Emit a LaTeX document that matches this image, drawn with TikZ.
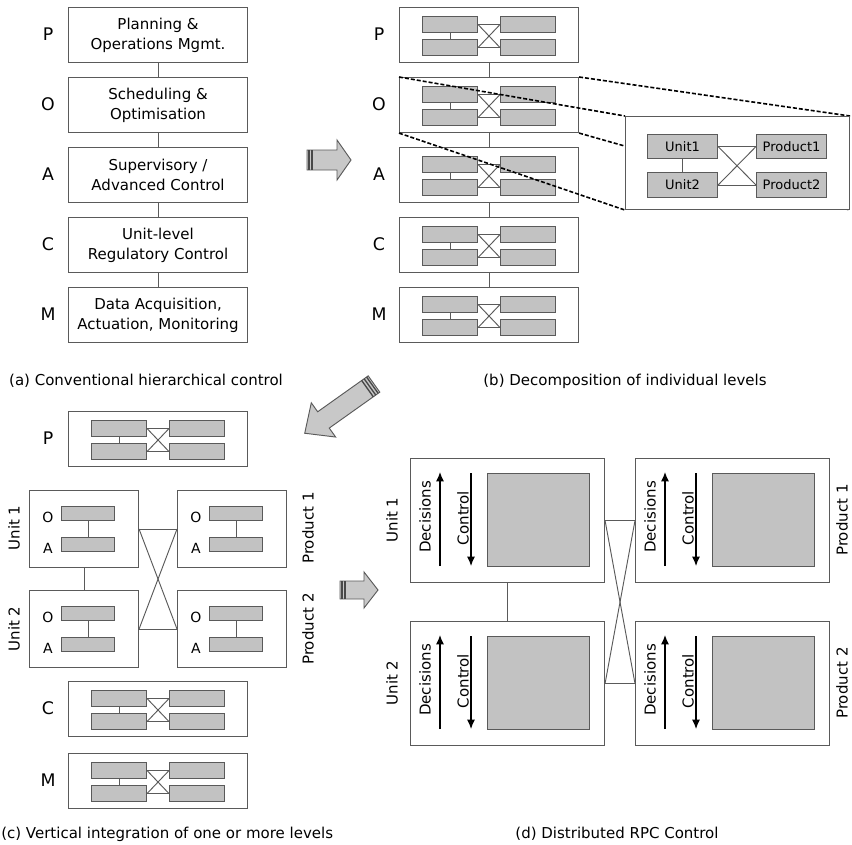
\documentclass[tikz,border=0pt]{standalone}
\usepackage{fontspec}
\setmainfont{DejaVu Sans}
\usetikzlibrary{arrows.meta}
\pgfdeclarelayer{dashl}
\pgfdeclarelayer{insl}
\pgfsetlayers{main,dashl,insl}
\definecolor{bord}{HTML}{5A5A5A}
\definecolor{gfill}{HTML}{C2C2C2}
\definecolor{afill}{HTML}{C8C8C8}
\tikzset{
 sz/.style 2 args={minimum width=#1*0.75pt, minimum height=#2*0.75pt},
 bigbox/.style={draw=bord, line width=0.8pt, fill=white, inner sep=0pt, anchor=north west},
 grect/.style={draw=bord, line width=0.8pt, fill=gfill, inner sep=0pt, anchor=north west},
 conn/.style={draw=bord, line width=0.7pt},
 txt/.style={font=\fontsize{11.25}{15}\selectfont, align=center},
 lvl/.style={font=\fontsize{13}{15}\selectfont, inner sep=0pt},
 smalllbl/.style={font=\fontsize{10.5}{12}\selectfont, inner sep=0pt},
 instxt/.style={font=\fontsize{9.75}{12}\selectfont},
 captext/.style={font=\fontsize{11.25}{14}\selectfont, inner sep=0pt},
 rotlbl/.style={font=\fontsize{11.25}{14}\selectfont, rotate=90, inner sep=0pt},
 blockarrow/.style={fill=afill, draw=bord, line width=0.7pt, line join=miter},
 stripe/.style={draw=bord!80!black, line width=1pt},
 dasher/.style={draw=black, line width=1.2pt, dash pattern=on 3pt off 1.5pt},
 vecarrow/.style={draw=black, line width=0.9pt, -{Latex[length=7pt,width=6pt]}},
 level/.pic={
  \node[bigbox, sz={179}{55}] (-box) at (0,0) {};
  \node[grect, sz={55}{16}] (-u1) at (23,9) {};
  \node[grect, sz={55}{16}] (-u2) at (23,32) {};
  \node[grect, sz={55}{16}] (-p1) at (101,9) {};
  \node[grect, sz={55}{16}] (-p2) at (101,32) {};
  \draw[conn] (-u1) -- (-u2);
  \draw[conn] (-u1.east) -- (-p1.west);
  \draw[conn] (-u2.east) -- (-p2.west);
  \draw[conn] (-u1.east) -- (-p2.west);
  \draw[conn] (-u2.east) -- (-p1.west);
 },
 oa/.pic={
  \node[bigbox, sz={109}{77}] (-box) at (0,0) {};
  \node[grect, sz={53}{14}] (-o) at (32,16) {};
  \node[grect, sz={53}{14}] (-a) at (32,47) {};
  \node[smalllbl] (-ol) at (19,27) {O};
  \node[smalllbl] (-al) at (19,58) {A};
  \draw[conn] (-o) -- (-a);
 },
 dec/.pic={
  \node[bigbox, sz={194}{124}] (-box) at (0,0) {};
  \node[grect, sz={102}{93}] (-sq) at (77,15) {};
  \coordinate (-d1) at (30,108);
  \coordinate (-d2) at (30,14);
  \coordinate (-c1) at (61,15);
  \coordinate (-c2) at (61,108);
  \draw[vecarrow] (-d1) -- (-d2);
  \draw[vecarrow] (-c1) -- (-c2);
  \node[rotlbl] (-dt) at (15,59) {Decisions};
  \node[rotlbl] (-ct) at (53,60) {Control};
 }
}
\begin{document}
\begin{tikzpicture}[x=0.75pt, y=-0.75pt]
\useasboundingbox (0,0) rectangle (852,844);
\fill[white] (0,0) rectangle (852,844);

% ---------- (a)
\node[bigbox, sz={179}{55}, txt] (aP) at (68,7) {Planning \&\\Operations Mgmt.};
\node[bigbox, sz={179}{55}, txt] (aO) at (68,77) {Scheduling \&\\Optimisation};
\node[bigbox, sz={179}{55}, txt] (aA) at (68,147) {Supervisory /\\Advanced Control};
\node[bigbox, sz={179}{55}, txt] (aC) at (68,217) {Unit-level\\Regulatory Control};
\node[bigbox, sz={179}{55}, txt] (aM) at (68,287) {Data Acquisition,\\Actuation, Monitoring};
\node[lvl] (laP) at (48,34.5) {P};
\node[lvl] (laO) at (48,104.5) {O};
\node[lvl] (laA) at (48,174.5) {A};
\node[lvl] (laC) at (48,244.5) {C};
\node[lvl] (laM) at (48,314.5) {M};
\draw[conn] (aP) -- (aO);
\draw[conn] (aO) -- (aA);
\draw[conn] (aA) -- (aC);
\draw[conn] (aC) -- (aM);
\node[captext] (capa) at (146,381) {(a) Conventional hierarchical control};

% ---------- (b)
\pic (bP) at (399,7) {level};
\pic (bO) at (399,77) {level};
\pic (bA) at (399,147) {level};
\pic (bC) at (399,217) {level};
\pic (bM) at (399,287) {level};
\node[lvl] (lbP) at (379,34.5) {P};
\node[lvl] (lbO) at (379,104.5) {O};
\node[lvl] (lbA) at (379,174.5) {A};
\node[lvl] (lbC) at (379,244.5) {C};
\node[lvl] (lbM) at (379,314.5) {M};
\draw[conn] (bP-box) -- (bO-box);
\draw[conn] (bO-box) -- (bA-box);
\draw[conn] (bA-box) -- (bC-box);
\draw[conn] (bC-box) -- (bM-box);
\node[captext] (capb) at (625,381) {(b) Decomposition of individual levels};

% inset
\begin{pgfonlayer}{insl}
\node[bigbox, sz={224}{93}] (ins) at (625,116) {};
\node[grect, sz={70}{24}, instxt] (iU1) at (647,134) {Unit1};
\node[grect, sz={70}{25}, instxt] (iU2) at (647,172) {Unit2};
\node[grect, sz={70}{24}, instxt] (iP1) at (756,134) {Product1};
\node[grect, sz={70}{25}, instxt] (iP2) at (756,172) {Product2};
\draw[conn] (iU1) -- (iU2);
\draw[conn] (iU1.east) -- (iP1.west);
\draw[conn] (iU2.east) -- (iP2.west);
\draw[conn] (iU1.east) -- (iP2.west);
\draw[conn] (iU2.east) -- (iP1.west);
\end{pgfonlayer}
\begin{pgfonlayer}{dashl}
\draw[dasher] (bO-box.north west) -- (ins.north west);
\draw[dasher] (bO-box.north east) -- (ins.north east);
\draw[dasher] (bO-box.south west) -- (ins.south west);
\draw[dasher] (bO-box.south east) -- (ins.south east);
\end{pgfonlayer}

% ---------- block arrows
\begin{scope}[shift={(307,160)}]
 \path[blockarrow] (0,-10) -- (30,-10) -- (30,-20) -- (44,0) -- (30,20) -- (30,10) -- (0,10) -- cycle;
 \draw[stripe] (2,-10) -- (2,10) (5,-10) -- (5,10);
\end{scope}
\begin{scope}[shift={(374,384)}, rotate=215.4]
 \path[blockarrow] (0,-10) -- (62,-10) -- (62,-21) -- (85,0) -- (62,21) -- (62,10) -- (0,10) -- cycle;
 \draw[stripe] (2,-10) -- (2,10) (5,-10) -- (5,10) (8,-10) -- (8,10);
\end{scope}
\begin{scope}[shift={(340,590)}]
 \path[blockarrow] (0,-9) -- (24,-9) -- (24,-18) -- (38,0) -- (24,18) -- (24,9) -- (0,9) -- cycle;
 \draw[stripe] (2,-9) -- (2,9) (5,-9) -- (5,9);
\end{scope}

% ---------- (c)
\pic (cP) at (68,411) {level};
\node[lvl] (lcP) at (48,438.5) {P};
\pic (cU1) at (29,490) {oa};
\pic (cU2) at (29,590) {oa};
\pic (cP1) at (177,490) {oa};
\pic (cP2) at (177,590) {oa};
\draw[conn] (cU1-box) -- (cU2-box);
\draw[conn] (cU1-box.east) -- (cP1-box.west);
\draw[conn] (cU2-box.east) -- (cP2-box.west);
\draw[conn] (cU1-box.east) -- (cP2-box.west);
\draw[conn] (cU2-box.east) -- (cP1-box.west);
\node[rotlbl] (lcU1) at (14,528) {Unit 1};
\node[rotlbl] (lcU2) at (14,629) {Unit 2};
\node[rotlbl] (lcP1) at (308,528) {Product 1};
\node[rotlbl] (lcP2) at (308,629) {Product 2};
\pic (cC) at (68,681) {level};
\pic (cM) at (68,753) {level};
\node[lvl] (lcC) at (48,708.5) {C};
\node[lvl] (lcM) at (48,780.5) {M};
\node[captext, anchor=west] (capc) at (1,834) {(c) Vertical integration of one or more levels};

% ---------- (d)
\pic (dU1) at (410,458) {dec};
\pic (dU2) at (410,621) {dec};
\pic (dP1) at (635,458) {dec};
\pic (dP2) at (635,621) {dec};
\draw[conn] (dU1-box) -- (dU2-box);
\draw[conn] (dU1-box.east) -- (dP1-box.west);
\draw[conn] (dU2-box.east) -- (dP2-box.west);
\draw[conn] (dU1-box.east) -- (dP2-box.west);
\draw[conn] (dU2-box.east) -- (dP1-box.west);
\node[rotlbl] (ldU1) at (392,520) {Unit 1};
\node[rotlbl] (ldU2) at (392,683) {Unit 2};
\node[rotlbl] (ldP1) at (842,520) {Product 1};
\node[rotlbl] (ldP2) at (842,683) {Product 2};
\node[captext] (capd) at (617,834) {(d) Distributed RPC Control};
\end{tikzpicture}
\end{document}
